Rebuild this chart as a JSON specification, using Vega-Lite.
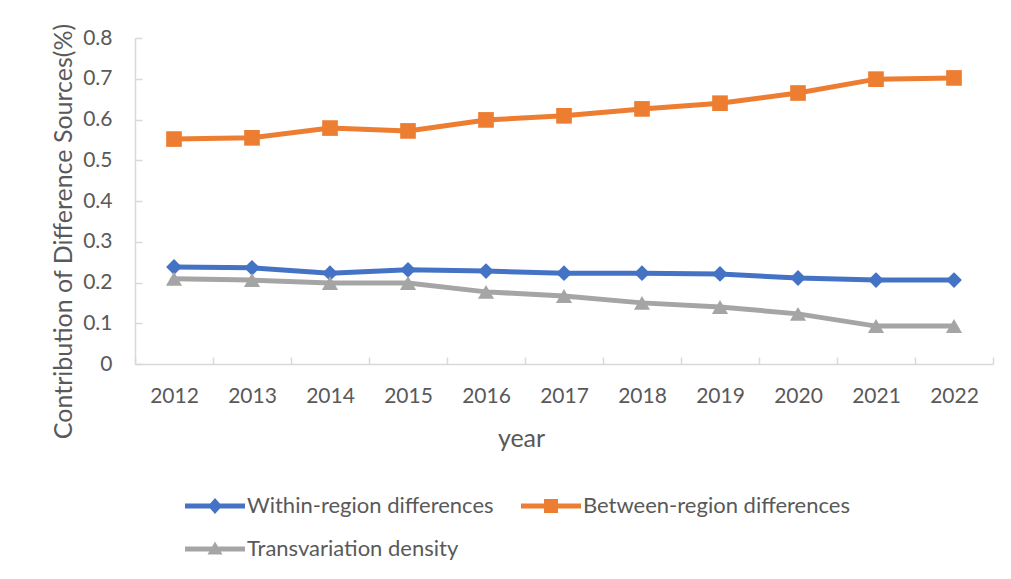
{
  "$schema": "https://vega.github.io/schema/vega-lite/v6.json",
  "width": 858,
  "height": 326,
  "autosize": {"type": "none"},
  "padding": {"left": 135, "top": 38, "right": 18, "bottom": 215},
  "background": "white",
  "config": {
    "view": {"stroke": null},
    "font": "Lato",
    "axis": {
      "labelFont": "Lato", "titleFont": "Lato",
      "labelFontSize": 21, "titleFontSize": 25,
      "labelColor": "#595959", "titleColor": "#595959",
      "titleFontWeight": "normal",
      "domainColor": "#d9d9d9", "domainWidth": 1.5,
      "tickColor": "#d9d9d9", "tickWidth": 1.5,
      "grid": false
    },
    "legend": {"labelFont": "Lato", "labelFontSize": 22, "labelColor": "#595959", "labelLimit": 500}
  },
  "data": {
    "values": [
      {"year": "2012", "series": "Within-region differences", "value": 0.238},
      {"year": "2013", "series": "Within-region differences", "value": 0.236},
      {"year": "2014", "series": "Within-region differences", "value": 0.223},
      {"year": "2015", "series": "Within-region differences", "value": 0.231},
      {"year": "2016", "series": "Within-region differences", "value": 0.228},
      {"year": "2017", "series": "Within-region differences", "value": 0.223},
      {"year": "2018", "series": "Within-region differences", "value": 0.223},
      {"year": "2019", "series": "Within-region differences", "value": 0.221},
      {"year": "2020", "series": "Within-region differences", "value": 0.211},
      {"year": "2021", "series": "Within-region differences", "value": 0.206},
      {"year": "2022", "series": "Within-region differences", "value": 0.206},
      {"year": "2012", "series": "Between-region differences", "value": 0.552},
      {"year": "2013", "series": "Between-region differences", "value": 0.555},
      {"year": "2014", "series": "Between-region differences", "value": 0.579},
      {"year": "2015", "series": "Between-region differences", "value": 0.572},
      {"year": "2016", "series": "Between-region differences", "value": 0.599},
      {"year": "2017", "series": "Between-region differences", "value": 0.609},
      {"year": "2018", "series": "Between-region differences", "value": 0.626},
      {"year": "2019", "series": "Between-region differences", "value": 0.640},
      {"year": "2020", "series": "Between-region differences", "value": 0.665},
      {"year": "2021", "series": "Between-region differences", "value": 0.699},
      {"year": "2022", "series": "Between-region differences", "value": 0.702},
      {"year": "2012", "series": "Transvariation density", "value": 0.209},
      {"year": "2013", "series": "Transvariation density", "value": 0.206},
      {"year": "2014", "series": "Transvariation density", "value": 0.199},
      {"year": "2015", "series": "Transvariation density", "value": 0.199},
      {"year": "2016", "series": "Transvariation density", "value": 0.177},
      {"year": "2017", "series": "Transvariation density", "value": 0.167},
      {"year": "2018", "series": "Transvariation density", "value": 0.150},
      {"year": "2019", "series": "Transvariation density", "value": 0.140},
      {"year": "2020", "series": "Transvariation density", "value": 0.123},
      {"year": "2021", "series": "Transvariation density", "value": 0.093},
      {"year": "2022", "series": "Transvariation density", "value": 0.093}
    ]
  },
  "encoding": {
    "x": {
      "field": "year", "type": "ordinal",
      "scale": {"type": "band", "paddingInner": 0, "paddingOuter": 0},
      "axis": {"title": "year", "labelAngle": 0, "tickBand": "extent", "tickSize": -7, "labelPadding": 28, "titlePadding": 20, "titleX": 386}
    },
    "y": {
      "field": "value", "type": "quantitative",
      "scale": {"domain": [0, 0.8], "nice": false},
      "axis": {"title": "Contribution of Difference Sources(%)", "values": [0, 0.1, 0.2, 0.3, 0.4, 0.5, 0.6, 0.7, 0.8], "format": "~g", "tickSize": -7, "labelPadding": 30, "titlePadding": 6, "titleY": 193}
    },
    "color": {
      "field": "series", "type": "nominal",
      "scale": {"domain": ["Within-region differences", "Between-region differences", "Transvariation density"], "range": ["#4472C4", "#ED7D31", "#A5A5A5"]},
      "legend": {
        "title": null, "orient": "none", "legendX": 69, "legendY": 457,
        "direction": "horizontal",
        "columns": 2, "columnPadding": 27, "rowPadding": 21, "padding": 0,
        "symbolSize": 400, "labelOffset": 21, "symbolStrokeWidth": 0, "symbolOpacity": 1
      }
    }
  },
  "layer": [
    {
      "transform": [{"filter": "datum.value < 0"}],
      "mark": {"type": "point", "filled": true, "opacity": 1, "size": 400},
      "encoding": {
        "shape": {
          "field": "series", "type": "nominal",
          "scale": {"domain": ["Within-region differences", "Between-region differences", "Transvariation density"], "range": ["M-3,-0.25 H3 V0.25 H-3 Z M0,-0.8 L0.7,0 L0,0.8 L-0.7,0 Z", "M-3,-0.25 H3 V0.25 H-3 Z M-0.7,-0.7 H0.7 V0.7 H-0.7 Z", "M-3,-0.25 H3 V0.25 H-3 Z M0,-0.75 L0.75,0.55 L-0.75,0.55 Z"]}
        }
      }
    },
    {"mark": {"type": "line", "strokeWidth": 5}},
    {
      "transform": [{"filter": "datum.series === 'Within-region differences'"}],
      "mark": {"type": "point", "filled": true, "opacity": 1, "size": 250, "shape": "diamond"}
    },
    {
      "transform": [{"filter": "datum.series === 'Between-region differences'"}],
      "mark": {"type": "point", "filled": true, "opacity": 1, "size": 245, "shape": "square"}
    },
    {
      "transform": [{"filter": "datum.series === 'Transvariation density'"}],
      "mark": {"type": "point", "filled": true, "opacity": 1, "size": 260, "shape": "triangle-up"}
    }
  ]
}
